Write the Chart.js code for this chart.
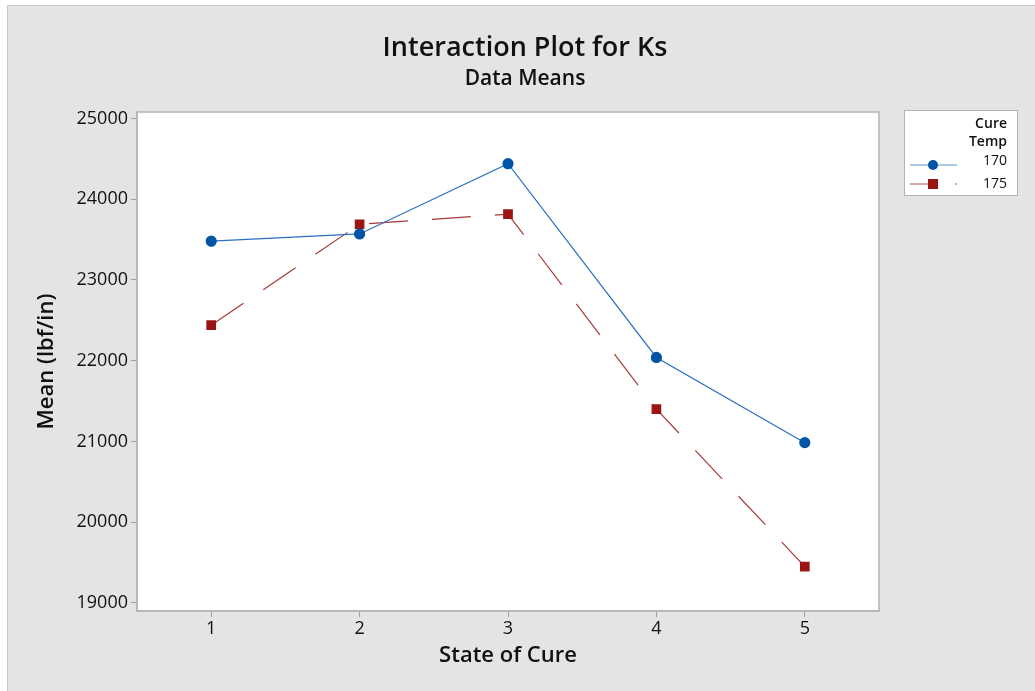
<!DOCTYPE html>
<html>
<head>
<meta charset="utf-8">
<script src="https://cdn.jsdelivr.net/npm/chart.js@4.4.1/dist/chart.umd.min.js"></script>
<style>
  html, body { margin: 0; padding: 0; background: #fff; }
  #wrap { width: 1035px; height: 691px; }
</style>
</head>
<body>
<div id="wrap"><canvas id="chart" width="1035" height="691"></canvas></div>
<script>
const states = ['1', '2', '3', '4', '5'];
const temp170 = [23480, 23570, 24440, 22040, 20985];
const temp175 = [22440, 23690, 23815, 21400, 19450];
const yTicks = [19000, 20000, 21000, 22000, 23000, 24000, 25000];
const seriesNames = ['170', '175'];

const BLUE = '#0054a6';
const RED = '#9b1414';
const FONT = '"Open Sans", "Noto Sans", sans-serif';

// background, frame, titles and the legend box
const decor = {
  id: 'decor',
  beforeDraw(chart) {
    const ctx = chart.ctx;
    const a = chart.chartArea;
    ctx.save();
    ctx.fillStyle = '#ffffff';
    ctx.fillRect(0, 0, chart.width, chart.height);
    ctx.fillStyle = '#e4e4e4';
    ctx.fillRect(7, 5, chart.width - 7, chart.height - 5);
    ctx.strokeStyle = '#c8c8c8';
    ctx.lineWidth = 1;
    ctx.beginPath();
    ctx.moveTo(7.5, chart.height);
    ctx.lineTo(7.5, 5.5);
    ctx.lineTo(chart.width, 5.5);
    ctx.stroke();
    ctx.fillStyle = '#ffffff';
    ctx.fillRect(a.left, a.top, a.right - a.left, a.bottom - a.top);
    ctx.restore();
  },
  afterDraw(chart) {
    const ctx = chart.ctx;
    const a = chart.chartArea;
    ctx.save();
    // plot frame
    ctx.strokeStyle = '#b4b4b4';
    ctx.lineWidth = 1.5;
    ctx.strokeRect(a.left, a.top, a.right - a.left, a.bottom - a.top);

    // titles
    ctx.fillStyle = '#111';
    ctx.textAlign = 'center';
    ctx.textBaseline = 'middle';
    ctx.font = '600 27px ' + FONT;
    ctx.fillText('Interaction Plot for Ks', 525, 48);
    ctx.font = '600 21px ' + FONT;
    ctx.fillText('Data Means', 525, 79);

    // legend
    const lx = 904, ly = 110, lw = 113, lh = 85;
    ctx.fillStyle = '#ffffff';
    ctx.fillRect(lx, ly, lw, lh);
    ctx.strokeStyle = '#b4b4b4';
    ctx.lineWidth = 1;
    ctx.strokeRect(lx + 0.5, ly + 0.5, lw, lh);
    ctx.fillStyle = '#111';
    ctx.textAlign = 'right';
    ctx.font = '600 14px ' + FONT;
    ctx.fillText('Cure', 1007, 124);
    ctx.fillText('Temp', 1007, 142);
    ctx.font = '14px ' + FONT;
    ctx.fillText(seriesNames[0], 1007, 161);
    ctx.fillText(seriesNames[1], 1007, 184);

    ctx.lineWidth = 1;
    ctx.strokeStyle = '#5b8fd0';
    ctx.beginPath();
    ctx.moveTo(910, 165);
    ctx.lineTo(957, 165);
    ctx.stroke();
    ctx.fillStyle = BLUE;
    ctx.beginPath();
    ctx.arc(933, 165, 5, 0, Math.PI * 2);
    ctx.fill();

    ctx.strokeStyle = '#b05050';
    ctx.beginPath();
    ctx.moveTo(910, 184);
    ctx.lineTo(938, 184);
    ctx.moveTo(955, 184);
    ctx.lineTo(957, 184);
    ctx.stroke();
    ctx.fillStyle = RED;
    ctx.fillRect(928, 179, 10, 10);
    ctx.restore();
  }
};

const config = {
  type: 'line',
  data: {
    labels: states,
    datasets: [
      {
        label: seriesNames[0],
        data: temp170,
        borderColor: '#2a6fc0',
        borderWidth: 1.2,
        backgroundColor: BLUE,
        pointBackgroundColor: BLUE,
        pointBorderColor: BLUE,
        pointStyle: 'circle',
        pointRadius: 5,
        tension: 0,
      },
      {
        label: seriesNames[1],
        data: temp175,
        borderColor: '#a83a3a',
        borderWidth: 1.2,
        borderDash: [39, 24],
        backgroundColor: RED,
        pointBackgroundColor: RED,
        pointBorderColor: RED,
        pointStyle: 'rect',
        pointRadius: 6,
        tension: 0,
      },
    ],
  },
  options: {
    responsive: false,
    animation: false,
    layout: { padding: { top: 112, right: 156, left: 0, bottom: 0 } },
    plugins: {
      legend: { display: false },
      title: { display: false },
      tooltip: { enabled: false },
    },
    scales: {
      x: {
        offset: true,
        grid: { display: true, drawOnChartArea: false, drawTicks: true, tickLength: 6, color: '#a0a0a0', offset: false },
        border: { display: true, color: '#b4b4b4', width: 1.5 },
        ticks: { color: '#111', font: { family: FONT, size: 18 }, padding: 1 },
        title: { display: true, text: 'State of Cure', color: '#111', font: { family: FONT, size: 22, weight: '600' }, padding: { top: 0, bottom: 22 } },
        afterFit(axis) { axis.height = 80; },
      },
      y: {
        min: 18900,
        max: 25080,
        afterBuildTicks(axis) { axis.ticks = yTicks.map(v => ({ value: v })); },
        grid: { display: true, drawOnChartArea: false, drawTicks: true, tickLength: 6, color: '#a0a0a0' },
        border: { display: true, color: '#b4b4b4', width: 1.5 },
        ticks: { color: '#111', font: { family: FONT, size: 18 }, padding: 3, callback: v => String(v) },
        title: { display: true, text: 'Mean (lbf/in)', color: '#111', font: { family: FONT, size: 22, weight: '600' }, padding: { top: 34, bottom: 0 } },
        afterFit(axis) { axis.width = 137; },
      },
    },
  },
  plugins: [decor],
};

const myChart = new Chart(document.getElementById('chart'), config);
</script>
</body>
</html>
